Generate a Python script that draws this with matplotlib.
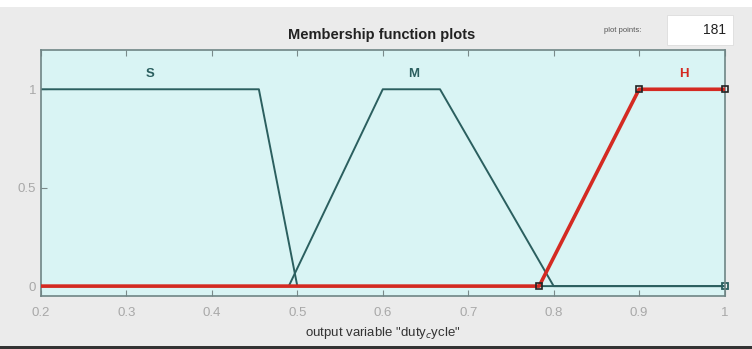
import numpy as np
import matplotlib.pyplot as plt
from matplotlib.patches import Rectangle

plt.rcParams['font.family'] = ['Liberation Sans', 'DejaVu Sans']

# Fonctions d'appartenance de la sortie "duty_cycle"
x_S = [0.2, 0.455, 0.5, 1.0]
y_S = [1, 1, 0, 0]
x_M = [0.2, 0.49, 0.6, 0.667, 0.8, 1.0]
y_M = [0, 0, 1, 1, 0, 0]
x_H = [0.2, 0.783, 0.9, 1.0]
y_H = [0, 0, 1, 1]

noms = ['S', 'M', 'H']
pos_noms = [0.328, 0.636, 0.952]
xticks = [0.2, 0.3, 0.4, 0.5, 0.6, 0.7, 0.8, 0.9, 1.0]
xtick_labels = ['0.2', '0.3', '0.4', '0.5', '0.6', '0.7', '0.8', '0.9', '1']
yticks = [0, 0.5, 1]
ytick_labels = ['0', '0.5', '1']

sombre = '#2b5f5f'
rouge = '#d42a22'

fig = plt.figure(figsize=(7.52, 3.49), dpi=100, facecolor='#ebebeb')
ax = fig.add_axes([0.0545, 0.152, 0.909, 0.705])
ax.set_facecolor('#d9f4f4')

ax.plot(x_S, y_S, color=sombre, lw=1.4)
ax.plot(x_M, y_M, color=sombre, lw=1.4)
ax.plot([1.0], [0], marker='s', ms=5, mfc='none', mec=sombre, mew=1.3, clip_on=False)
ax.plot(x_H, y_H, color=rouge, lw=2.6, zorder=3)
ax.plot([x_H[1], x_H[2], x_H[3]], [y_H[1], y_H[2], y_H[3]], ls='none', marker='s', ms=5,
        mfc='none', mec='#222222', mew=1.2, zorder=4, clip_on=False)

for nom, px in zip(noms, pos_noms):
    c = rouge if nom == 'H' else sombre
    ax.text(px, 1.08, nom, color=c, fontsize=9.5, fontweight='bold', ha='center', va='center')

ax.set_xlim(0.2, 1.0)
ax.set_ylim(-0.05, 1.2)
ax.set_xticks(xticks)
ax.set_xticklabels(xtick_labels)
ax.set_yticks(yticks)
ax.set_yticklabels(ytick_labels)
ax.tick_params(direction='in', top=True, length=4, colors='#7a8a8a', labelcolor='#a8a8a8',
               labelsize=9.5)
ax.tick_params(axis='x', pad=8)
for s in ax.spines.values():
    s.set_color('#6f8585')
    s.set_linewidth(1.2)

ax.set_xlabel('output variable "duty$_c$ycle"', fontsize=9.5, color='#333333', labelpad=4)
fig.text(0.508, 0.90, 'Membership function plots', ha='center', va='center',
         fontsize=10.5, fontweight='bold', color='#222222')

# Zone "plot points"
fig.text(0.828, 0.913, 'plot points:', ha='center', va='center', fontsize=5.5, color='#555555')
fig.patches.append(Rectangle((0.887, 0.871), 0.088, 0.086, transform=fig.transFigure,
                             facecolor='white', edgecolor='#dddddd', lw=0.6))
fig.text(0.965, 0.913, '181', ha='right', va='center', fontsize=10, color='#222222')

# Bande blanche en haut et trait sombre en bas
fig.patches.append(Rectangle((0, 0.98), 1, 0.02, transform=fig.transFigure,
                             facecolor='white', edgecolor='none'))
fig.patches.append(Rectangle((0, 0), 1, 0.008, transform=fig.transFigure,
                             facecolor='#333333', edgecolor='none'))

fig.savefig('out.png', dpi=100, facecolor=fig.get_facecolor())
